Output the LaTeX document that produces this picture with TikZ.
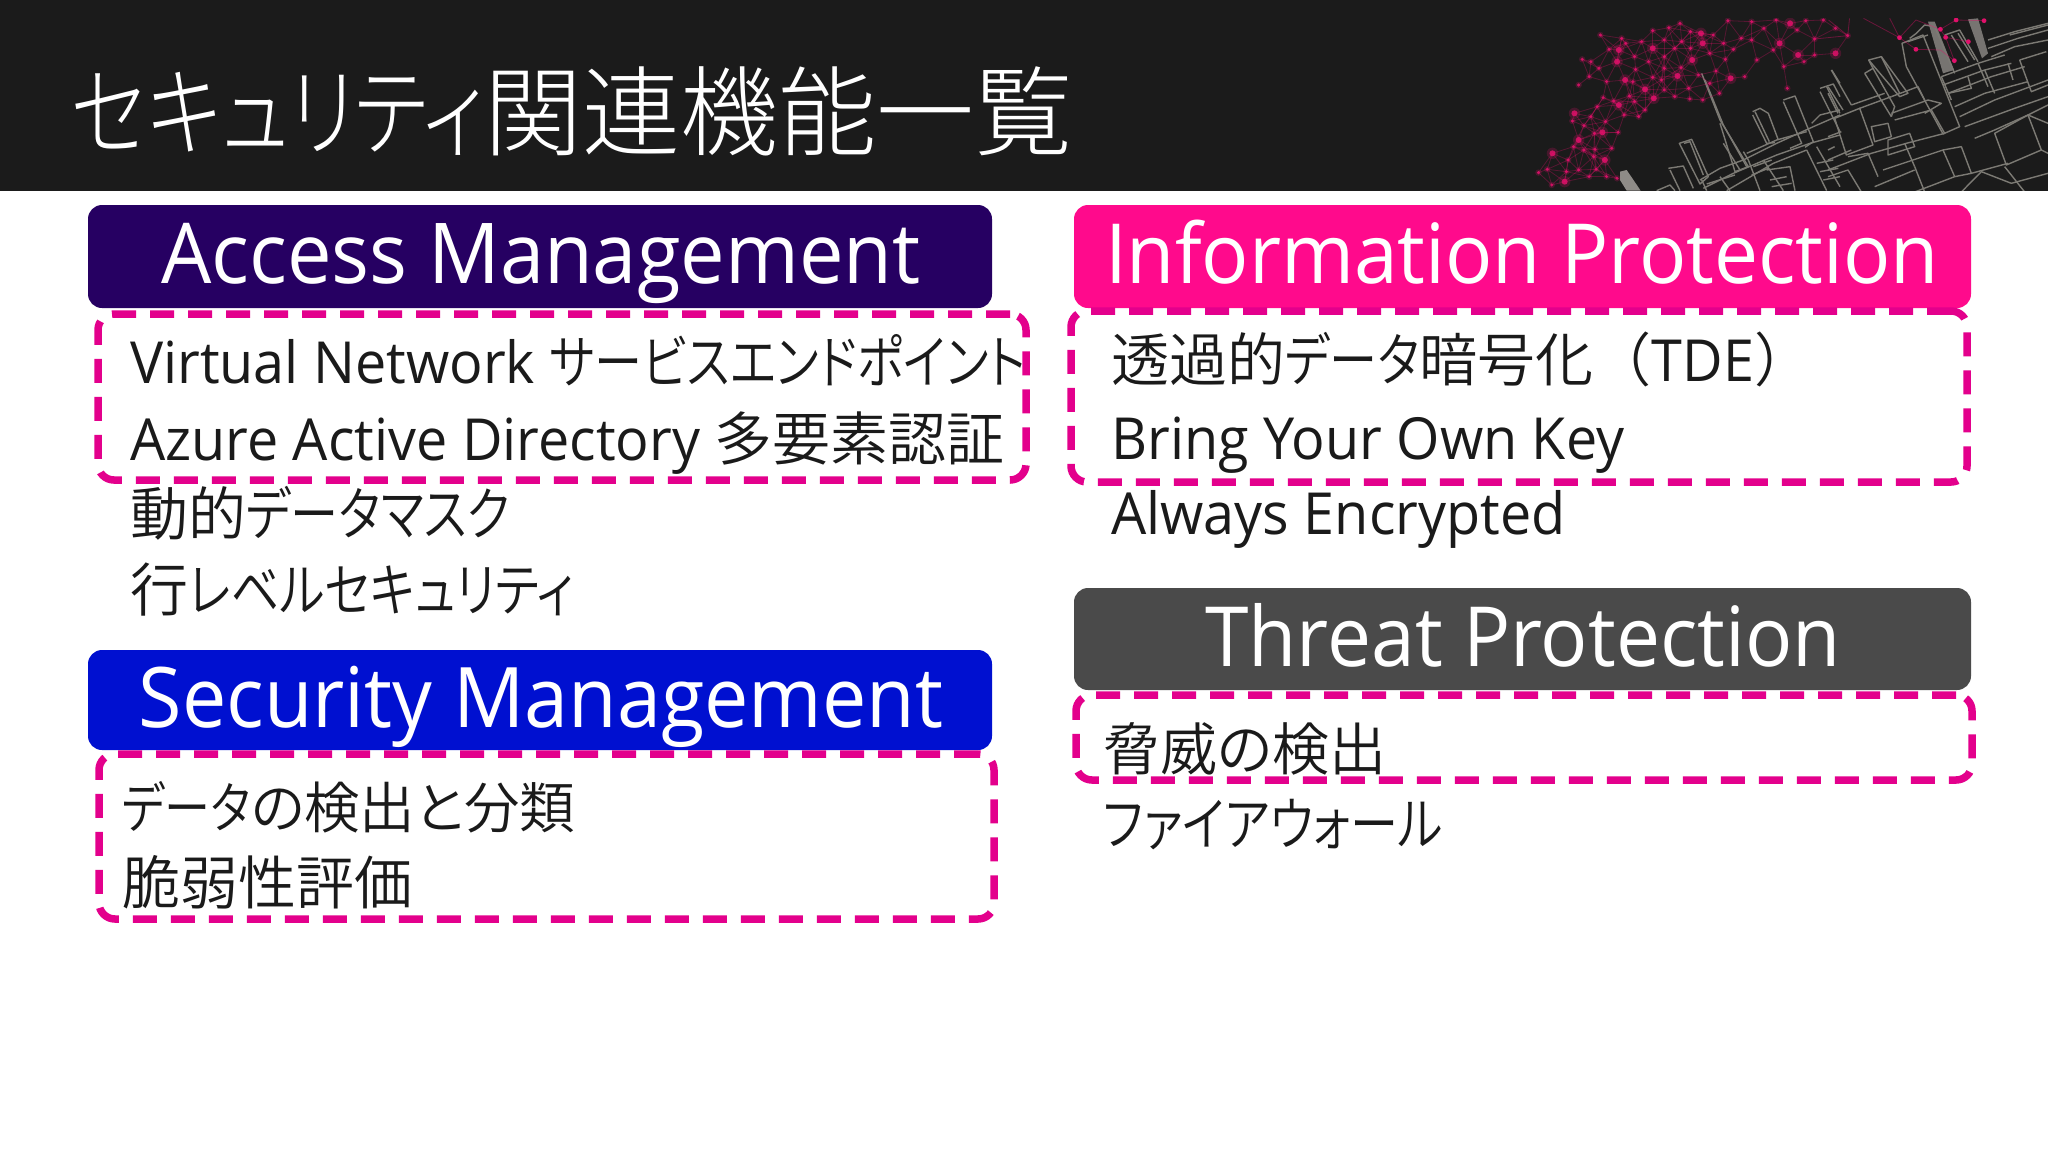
\documentclass[tikz,border=0pt]{standalone}
\usepackage{fontspec}
\setmainfont[FakeStretch=0.946]{Open Sans}
\newfontfamily\latinbody[FakeStretch=0.96]{Open Sans}
\newfontfamily\jp[RawFeature=+palt]{Noto Sans CJK JP DemiLight}
\newfontfamily\kt[RawFeature=+palt,FakeStretch=0.83]{Noto Sans CJK JP DemiLight}
\newfontfamily\jpfull{Noto Sans CJK JP DemiLight}
\newfontfamily\titlejp[RawFeature=+palt]{Noto Sans CJK JP Light}
\newfontfamily\titlekt[RawFeature=+palt,FakeStretch=0.815]{Noto Sans CJK JP Light}
\newcommand{\bodysz}{\fontsize{58}{62}\selectfont}
\definecolor{hdr}{HTML}{1B1B1B}
\definecolor{dashpink}{HTML}{E3008C}
\definecolor{netpink}{HTML}{E0106A}
\definecolor{citygrey}{HTML}{7C7A74}
\definecolor{citylight}{HTML}{8E8B87}
\definecolor{ink}{HTML}{1A1A1A}
\definecolor{amcol}{HTML}{260062}
\definecolor{smcol}{HTML}{0010D0}
\definecolor{ipcol}{HTML}{FF0A8C}
\definecolor{tpcol}{HTML}{4A4A4A}
\tikzset{
  bar/.style={rounded corners=14pt,inner sep=0pt,minimum width=904pt,minimum height=103pt},
  barlabel/.style={text=white,inner sep=0pt,anchor=base,font=\fontsize{84}{90}\selectfont},
  dashbox/.style={draw=dashpink,line width=7.5pt,dash pattern=on 24pt off 14pt,rounded corners=16pt},
  item/.style={text=ink,inner sep=0pt,anchor=base west,font=\bodysz\latinbody},
  city/.style={draw=citygrey,line width=1.4pt,line join=round},
}
\begin{document}
\begin{tikzpicture}[x=1pt,y=-1pt]
\useasboundingbox (0,0) rectangle (2048,1152);
\fill[white] (0,0) rectangle (2048,1152);
\fill[hdr] (0,0) rectangle (2048,190.5);
\begin{scope}
\clip (1500,18) rectangle (2048,190.5);
% pale towers
\begin{scope}[shift={(1828,10)},x=0.3333pt,y=-0.3333pt]
\fill[citylight,opacity=.8] (300,35) -- (320,35) -- (378,180) -- (345,190) -- cycle;
\fill[citylight,opacity=.8] (420,28) -- (450,25) -- (480,130) -- (462,145) -- cycle;
\end{scope}
\begin{scope}[shift={(1620,60)},x=0.3333pt,y=-0.3333pt]
\fill[citylight] (0,335) -- (20,330) -- (62,392) -- (20,392) -- (0,360) -- cycle;
\foreach \p in {
 {(178,250) -- (215,238) -- (265,350) -- (240,372) -- cycle},
 {(192,250) -- (210,245) -- (250,345)},
 {(145,325) -- (190,318) -- (220,385)}, {(110,392) -- (150,375) -- (165,392)}, {(150,330) -- (180,392)},
 {(245,40) -- (300,180) -- (385,320) -- (345,335) -- (300,190)},
 {(255,60) -- (310,195) -- (380,320)}, {(310,250) -- (360,330)},
 {(398,155) -- (420,145) -- (445,160) -- (475,240)}, {(398,165) -- (440,250) -- (465,248)}, {(405,155) -- (448,245)},
 {(490,120) -- (525,108) -- (580,245) -- (555,262)}, {(490,125) -- (545,250) -- (510,265)},
 {(600,85) -- (640,72) -- (660,110)}, {(600,95) -- (660,215)}, {(620,80) -- (660,160)}, {(635,30) -- (660,70)},
 {(240,360) -- (300,325) -- (370,300) -- (470,250) -- (580,200) -- (660,165)},
 {(250,385) -- (340,340) -- (470,285) -- (570,250) -- (660,225)},
 {(320,392) -- (460,310) -- (560,270)}, {(260,372) -- (345,345)},
 {(370,275) -- (385,300) -- (420,392)}, {(430,300) -- (490,392)},
 {(440,330) -- (510,320) -- (525,392)}, {(450,360) -- (500,350)}, {(455,380) -- (515,370)},
 {(575,190) -- (600,165) -- (660,150)}, {(560,270) -- (620,392)}, {(590,260) -- (660,380)},
 {(590,310) -- (640,300)}, {(600,335) -- (655,325)}, {(610,360) -- (660,350)},
 {(380,280) -- (470,240) -- (560,215)}, {(300,350) -- (330,392)}, {(260,392) -- (245,360)},
 {(400,320) -- (455,300)}, {(395,345) -- (445,325)}}
 {\draw[city] \p;}
\end{scope}
\begin{scope}[shift={(1828,10)},x=0.3333pt,y=-0.3333pt]
\foreach \p in {
 {(222,100) -- (285,75) -- (395,350) -- (345,372) -- (235,170) -- cycle},
 {(240,95) -- (300,75)}, {(245,85) -- (265,70) -- (290,45) -- (320,50) -- (380,190)},
 {(350,75) -- (395,60) -- (450,155)}, {(370,75) -- (420,155)}, {(390,70) -- (440,150)},
 {(122,150) -- (160,140) -- (240,250) -- (215,260) -- cycle}, {(110,190) -- (135,175) -- (200,290) -- (190,320)},
 {(135,175) -- (122,150)}, {(160,140) -- (215,250)}, {(110,190) -- (190,320)},
 {(10,180) -- (30,215) -- (70,285)}, {(0,230) -- (45,300)}, {(0,250) -- (30,310)},
 {(480,90) -- (560,65) -- (660,40)}, {(480,115) -- (570,85) -- (660,60)}, {(545,75) -- (660,45)},
 {(490,140) -- (560,110) -- (660,90)},
 {(575,150) -- (655,125)}, {(575,150) -- (610,245) -- (660,225)},
 {(340,200) -- (450,160) -- (530,135)}, {(345,225) -- (470,180) -- (550,160)},
 {(360,250) -- (490,200) -- (590,170)}, {(380,290) -- (470,250) -- (600,215)},
 {(395,320) -- (500,270) -- (660,210)}, {(410,350) -- (560,295) -- (660,260)},
 {(440,385) -- (500,360) -- (600,315) -- (660,285)},
 {(500,370) -- (600,315) -- (640,420) -- (535,465) -- cycle},
 {(20,325) -- (95,295) -- (135,405) -- (55,435) -- cycle},
 {(0,480) -- (130,430) -- (235,400) -- (350,370)},
 {(60,440) -- (120,430) -- (150,500)},
 {(180,390) -- (245,370) -- (260,410) -- (180,435) -- cycle},
 {(230,400) -- (260,470)},
 {(165,480) -- (345,420) -- (380,500) -- (260,546)},
 {(260,470) -- (290,546)}, {(345,420) -- (400,410) -- (430,490)},
 {(380,500) -- (430,490) -- (540,460)},
 {(400,546) -- (460,485) -- (550,520) -- (660,490)}, {(530,470) -- (590,546)},
 {(140,530) -- (260,480)}, {(660,340) -- (600,315)}, {(660,430) -- (640,420)},
 {(0,500) -- (60,480) -- (100,546)},
 {(190,310) -- (300,270) -- (340,280) -- (290,310)},
 {(190,260) -- (270,230) -- (290,270)},
 {(200,330) -- (310,300) -- (350,370)},
 {(130,350) -- (180,340) -- (190,380) -- (140,395) -- cycle},
 {(0,420) -- (20,410)}, {(0,380) -- (40,365)}, {(0,450) -- (70,420)},
 {(340,200) -- (370,270)},
 {(360,250) -- (430,235) -- (420,200)}, {(450,160) -- (480,230)},
 {(70,285) -- (170,250)}, {(95,295) -- (190,260)},
 {(540,160) -- (555,210)}, {(470,180) -- (500,250)}}
 {\draw[city] \p;}
\end{scope}
% network
\begin{scope}[shift={(1500,0)},x=0.3495pt,y=-0.3333pt]
\def\pts{287/105,348/115,437/92,483/83,575/100,610/105,652/62,690/115,755/85,800/130,850/90,875/62,900/117,995/107,437/145,405/125,312/148,235/178,283/205,335/185,385/170,425/185,470/170,520/125,550/180,600/160,645/178,668/148,782/150,853/165,812/200,822/265,225/255,305/245,358/240,380/245,388/208,437/232,462/240,508/228,518/203,568/225,618/213,470/205,415/268,370/288,325/303,295/293,278/320,340/315,385/305,500/290,543/297,628/280,213/340,207/363,240/377,302/365,397/350,293/397,338/397,272/448,268/470,195/480,150/460,110/518,135/508,190/515,148/555,185/545,275/508,335/535,255/230,260/185,340/150,360/130,470/120,500/145,545/145,580/130,640/130,720/120,735/180,700/230,660/235,600/250,580/300,540/265,470/270,440/295,415/330,355/345,260/350,270/400,225/420,210/440,240/450,225/510,255/530,300/480,305/530,320/445,870/185,900/165,960/160,545/95,515/70,720/65,790/60,830/70,925/60,960/85}
\foreach \a/\b [count=\i] in \pts {
  \foreach \c/\d [count=\j] in \pts {
    \ifnum\i<\j
      \pgfmathparse{veclen(\a-\c,\b-\d)<72?1:0}
      \ifnum\pgfmathresult=1
        \draw[netpink,opacity=0.3,line width=0.8pt] (\a,\b) -- (\c,\d);
      \fi
    \fi
  }
}
\foreach \a/\b [count=\i] in \pts {
  \pgfmathsetmacro{\r}{mod(\i,5)==0?3.0:1.7}
  \fill[netpink,opacity=.22] (\a,\b) circle[radius=\r*1.9 pt];
  \fill[netpink,opacity=.85] (\a,\b) circle[radius=\r pt];
}
\def\ptsb{1143/113,1190/148,1260/88,1275/112,1305/60,1385/62,1340/125,1300/182}
\foreach \a/\b in \ptsb { \fill[netpink] (\a,\b) circle[radius=2.4pt]; }
\draw[netpink,opacity=.4,line width=.8pt]
  (995,107) -- (1000,55) (995,107) -- (940,60) (995,107) -- (900,117)
  (1143,113) -- (1115,55) (1143,113) -- (1040,55) (1143,113) -- (1190,148)
  (1190,148) -- (1260,150) -- (1300,182) (1143,113) -- (1190,60) -- (1260,88) -- (1305,60)
  (1260,88) -- (1275,112) -- (1340,125) (1305,60) -- (1385,62) (1275,112) -- (1300,182);
\end{scope}
\end{scope}
% title
\node[text=white,inner sep=0pt,anchor=base west,font=\fontsize{98}{104}\selectfont\titlekt] (title) at (71,148) {セキュリティ{\titlejp 関連機能一覧}};
% bars
\node[bar,fill=amcol] (am) at (540,256.5) {};
\node[barlabel] (amlabel) at (541,283) {Access Management};
\node[bar,fill=smcol,minimum height=100pt] (sm) at (540,700) {};
\node[barlabel,font=\fontsize{83.6}{90}\selectfont] (smlabel) at (541,727) {Security Management};
\node[bar,fill=ipcol,minimum width=897pt] (ip) at (1522.5,256.5) {};
\node[barlabel,font=\fontsize{83}{90}\selectfont] (iplabel) at (1522,283) {Information Protection};
\node[bar,fill=tpcol,minimum width=897pt,minimum height=102pt] (tp) at (1522.5,639) {};
\node[barlabel,font=\fontsize{83}{90}\selectfont] (tplabel) at (1523,666) {Threat Protection};
% dashed frames
\node[dashbox,minimum width=928pt,minimum height=166pt] (f1) at (562,397) {};
\node[dashbox,minimum width=895pt,minimum height=165pt] (f2) at (546.5,836.5) {};
\node[dashbox,minimum width=896pt,minimum height=171pt] (f3) at (1519,396.5) {};
\node[dashbox,minimum width=896pt,minimum height=85pt] (f4) at (1524,737.5) {};
% items
\node[item] (a1) at (130,383) {Virtual Network {\kt サービスエンドポイント}};
\node[item] (a2) at (130,460) {Azure Active Directory {\jp 多要素認証}};
\node[item,font=\bodysz\jp] (a3) at (130,535) {動的{\kt データマスク}};
\node[item,font=\bodysz\kt] (a4) at (130,611) {{\jp 行}レベルセキュリティ};
\node[item,font=\fontsize{55.5}{60}\selectfont\jp] (s1) at (122,828) {{\kt データ}の検出と分類};
\node[item,font=\bodysz\jp] (s2) at (122,904) {脆弱性評価};
\node[item] (i1) at (1111,381) {{\jp 透過的}{\kt データ}{\jp 暗号化}{\jpfull （}TDE{\jpfull ）}};
\node[item] (i2) at (1111,459) {Bring Your Own Key};
\node[item] (i3) at (1111,534) {Always Encrypted};
\node[item,font=\fontsize{57}{60}\selectfont\jp] (t1) at (1103,770) {脅威の検出};
\node[item,font=\bodysz\kt] (t2) at (1103,845) {ファイアウォール};
\end{tikzpicture}
\end{document}
